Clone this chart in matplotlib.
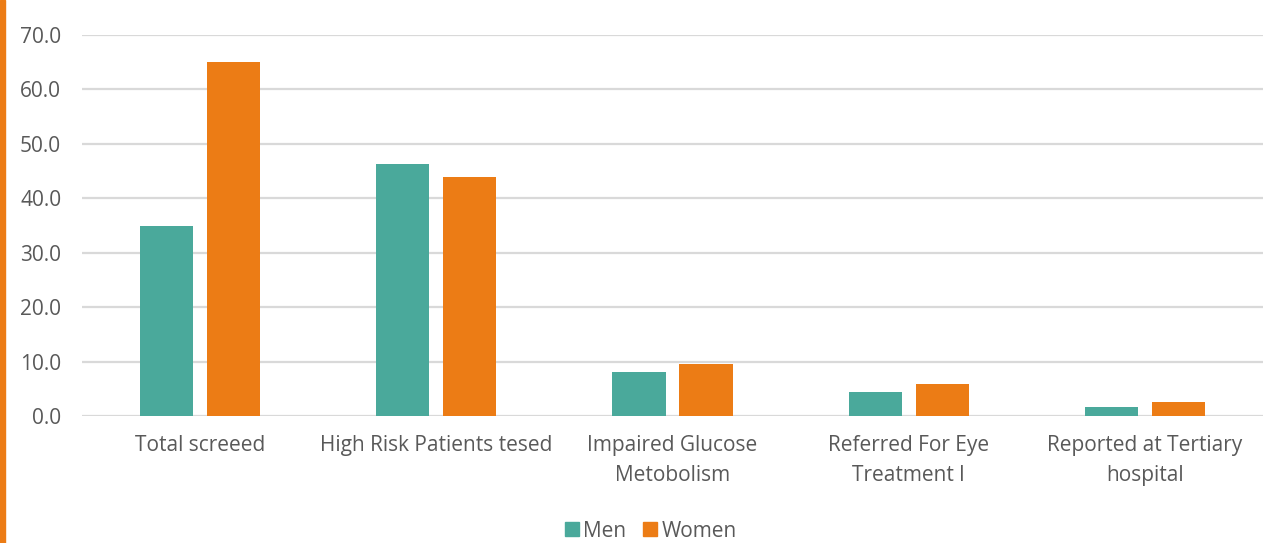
import numpy as np
import matplotlib.pyplot as plt
from matplotlib.lines import Line2D

categories = ["Total screeed", "High Risk Patients tesed", "Impaired Glucose\nMetobolism",
              "Referred For Eye\nTreatment l", "Reported at Tertiary\nhospital"]
men = [35.0, 46.3, 8.0, 4.4, 1.7]
women = [65.0, 44.0, 9.6, 5.8, 2.5]
yticks = [0, 10, 20, 30, 40, 50, 60, 70]

TEAL = "#4AA99B"
ORANGE = "#EC7C15"
GREY = "#595959"

plt.rcParams['font.family'] = ['Open Sans', 'DejaVu Sans']

fig = plt.figure(figsize=(12.73, 5.43), dpi=100)
ax = fig.add_axes([0.0644, 0.2339, 0.9278, 0.7016])

x = np.arange(len(categories))
w = 0.225
ax.bar(x - 0.142, men, width=w, color=TEAL, label="Men", zorder=3)
ax.bar(x + 0.142, women, width=w, color=ORANGE, label="Women", zorder=3)

ax.set_xlim(-0.5, len(categories) - 0.5)
ax.set_ylim(0, 70)
ax.set_yticks(yticks)
ax.set_yticklabels([f"{v:.1f}" for v in yticks])
ax.set_xticks(x)
ax.set_xticklabels(categories, linespacing=1.55)
ax.tick_params(axis='both', length=0, labelsize=15, labelcolor=GREY)
ax.tick_params(axis='y', pad=15)
ax.tick_params(axis='x', pad=14)
ax.grid(axis='y', color="#D9D9D9", linewidth=1.6, zorder=0)
for s in ax.spines.values():
    s.set_visible(False)

handles = [Line2D([], [], marker='s', linestyle='none', markersize=10, color=TEAL),
           Line2D([], [], marker='s', linestyle='none', markersize=10, color=ORANGE)]
fig.legend(handles, ["Men", "Women"], loc='center', bbox_to_anchor=(0.511, 0.022),
           ncol=2, frameon=False, fontsize=15, labelcolor=GREY,
           handletextpad=0.2, columnspacing=0.8, handlelength=0.7)

# orange strip down the left edge
fig.add_artist(plt.Rectangle((0, 0), 5 / 1273, 1, transform=fig.transFigure,
                             color=ORANGE, zorder=5))

fig.savefig("out.png", dpi=100)
